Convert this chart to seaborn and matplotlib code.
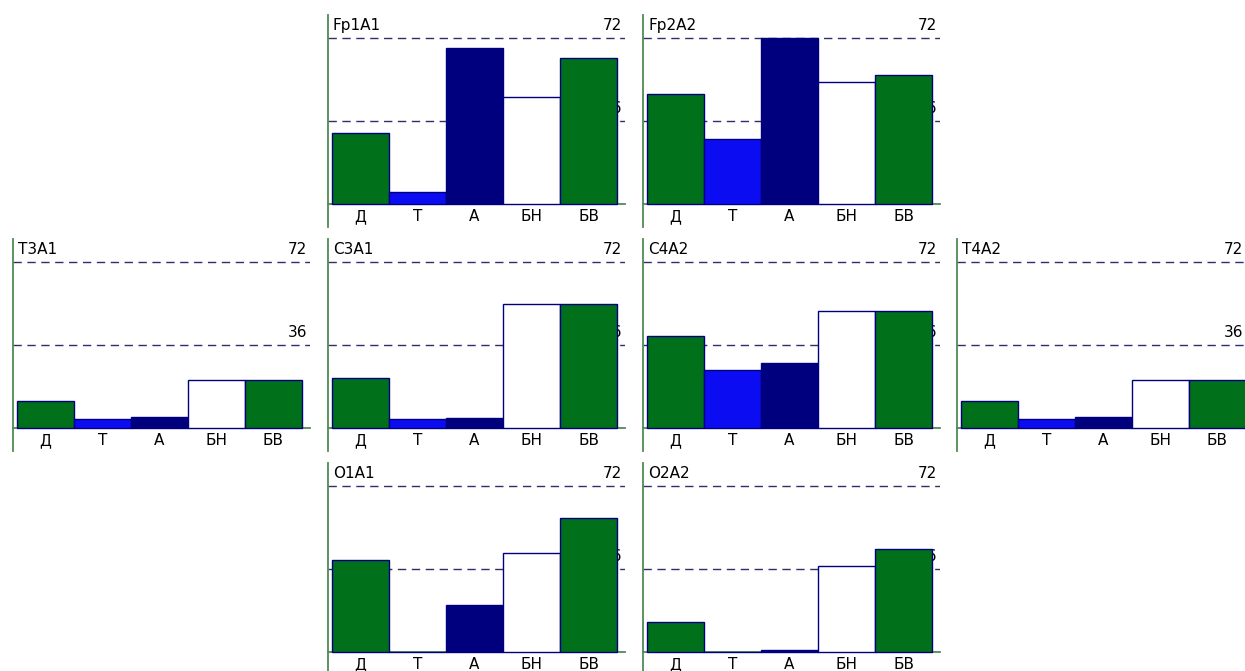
import seaborn as sns
import matplotlib.pyplot as plt
import pandas as pd

# band labels and power values per lead
cats = ['Д', 'Т', 'А', 'БН', 'БВ']
leads = ['Fp1A1', 'Fp2A2', 'T3A1', 'C3A1', 'C4A2', 'T4A2', 'O1A1', 'O2A2']
fp1a1 = [30.8, 5.2, 67.6, 46.4, 63.3]
fp2a2 = [47.6, 28.4, 72.0, 52.8, 55.9]
t3a1 = [11.6, 3.9, 4.6, 20.7, 20.7]
c3a1 = [21.7, 3.9, 4.2, 53.8, 53.8]
c4a2 = [39.9, 25.2, 28.2, 50.7, 50.7]
t4a2 = [11.6, 3.9, 4.6, 20.7, 20.7]
o1a1 = [39.9, 0.0, 20.4, 42.9, 58.1]
o2a2 = [13.0, 0.0, 0.8, 37.3, 44.7]
values = [fp1a1, fp2a2, t3a1, c3a1, c4a2, t4a2, o1a1, o2a2]
ymax = 72
ymid = 36

GREEN = '#00701A'
BLUE = '#0C0CF2'
NAVY = '#00007F'
AXC = '#4F8A55'
DASH = '#2E2E6E'
palette = {'Д': GREEN, 'Т': BLUE, 'А': NAVY, 'БН': 'white', 'БВ': GREEN}

W, H = 1245, 671
sns.set_style('white')
plt.rcParams['font.family'] = ['DejaVu Sans']
fig = plt.figure(figsize=(W / 100, H / 100), dpi=100)

# panel anchors: (x of left axis line, y of the 72 line) in pixels
anchors = [(328, 38), (643, 38),
           (13, 262), (328, 262), (643, 262), (957, 262),
           (328, 486), (643, 486)]
pxu = 166 / ymax   # pixels per unit
barw = 57          # pixels per bar
pad = 23
panel_w = 297

for name, vals, (ax_x, y72) in zip(leads, values, anchors):
    base = y72 + ymax * pxu
    bottom = H - (base + pad)
    height = ymax * pxu + 2 * pad
    ax = fig.add_axes([ax_x / W, bottom / H, panel_w / W, height / H])
    df = pd.DataFrame({'band': cats, 'val': vals})
    sns.barplot(data=df, x='band', y='val', hue='band', palette=palette, saturation=1,
                width=1, edgecolor=NAVY, linewidth=1, legend=False, ax=ax, zorder=3)
    x0 = -0.5 - 4 / barw
    x1 = x0 + panel_w / barw
    ax.set_xlim(x0, x1)
    ax.set_ylim(-pad / pxu, ymax + pad / pxu)
    ax.axhline(ymax, color=DASH, lw=1, ls=(0, (6, 4)), zorder=1)
    ax.axhline(ymid, color=DASH, lw=1, ls=(0, (6, 4)), zorder=1)
    for s in ['top', 'right']:
        ax.spines[s].set_visible(False)
    ax.spines['left'].set_color(AXC)
    ax.spines['bottom'].set_color(AXC)
    ax.spines['left'].set_linewidth(1.3)
    ax.spines['bottom'].set_linewidth(1.3)
    ax.spines['bottom'].set_position(('data', 0))
    ax.set_yticks([])
    ax.tick_params(axis='x', length=0, pad=3.5, labelsize=11, labelcolor='black')
    ax.set_xlabel('')
    ax.set_ylabel('')
    ax.patch.set_alpha(0)
    # right-aligned scale labels, kept inside the figure
    xr_px = min(ax_x + 4 + 5 * barw + 5, W - 2)
    xr = x0 + (xr_px - ax_x) / barw
    ax.text(x0 + 5 / barw, ymax + 5 / pxu, name, fontsize=11, ha='left', va='bottom',
            color='black', zorder=2)
    ax.text(xr, ymax + 5 / pxu, str(ymax), fontsize=11, ha='right', va='bottom',
            color='black', zorder=2)
    ax.text(xr, ymid + 5 / pxu, str(ymid), fontsize=11, ha='right', va='bottom',
            color='black', zorder=2)

fig.savefig('out.png', dpi=100)
